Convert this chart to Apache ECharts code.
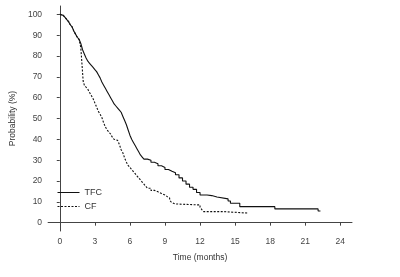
<!DOCTYPE html>
<html>
<head>
<meta charset="utf-8">
<script src="https://cdn.jsdelivr.net/npm/echarts@6/dist/echarts.min.js"></script>
<style>
  html, body { margin: 0; padding: 0; background: #fff; }
  #chart { width: 400px; height: 277px; }
</style>
</head>
<body>
<div id="chart"></div>
<script>
// Kaplan-Meier step data (time in months, probability %)
var tfcTime = [0, 0.15, 0.3, 0.45, 0.6, 0.75, 0.9, 1.05, 1.2, 1.35, 1.5, 1.65, 1.8, 1.95, 2.1, 2.25, 2.4, 2.55, 2.7, 2.85, 3.0, 3.15, 3.3, 3.45, 3.6, 3.75, 3.9, 4.05, 4.2, 4.35, 4.5, 4.65, 4.8, 4.95, 5.1, 5.25, 5.4, 5.55, 5.7, 5.85, 6.0, 6.15, 6.3, 6.45, 6.6, 6.75, 6.9, 7.05, 7.2, 7.5, 7.8, 8.1, 8.4, 8.7, 9.0, 9.3, 9.6, 9.9, 10.2, 10.5, 10.8, 11.1, 11.4, 11.7, 12.0, 12.6, 13.0, 13.45, 14.4, 14.6, 15.4, 18.4, 22.1, 22.3];
var tfcProb = [100, 99.5, 99, 98.5, 97.5, 96.5, 95, 94, 92, 90.5, 89, 88, 86, 83, 81, 79, 77.5, 76.5, 75.5, 74.5, 73.5, 72.5, 71, 69.5, 67.5, 66, 64.5, 63, 61.5, 60, 58.5, 57, 56, 55, 54, 53, 51, 49, 47, 44.5, 42, 40, 38.5, 37, 35.5, 34, 32.5, 31.5, 30.5, 30, 29, 28.3, 27.3, 26.5, 25.5, 24.7, 24, 23, 21.5, 20, 18.5, 17, 16, 14.5, 13.3, 13, 12.3, 11.4, 10.4, 9.3, 7.7, 6.6, 5.6, 5.6];

var cfTime = [0, 0.15, 0.3, 0.45, 0.6, 0.75, 0.9, 1.05, 1.2, 1.35, 1.5, 1.65, 1.8, 1.85, 1.9, 1.95, 2.0, 2.1, 2.25, 2.4, 2.55, 2.7, 2.85, 3.0, 3.15, 3.3, 3.45, 3.6, 3.75, 3.9, 4.05, 4.2, 4.35, 4.5, 4.65, 4.8, 4.95, 5.1, 5.25, 5.4, 5.55, 5.7, 5.85, 6.0, 6.15, 6.3, 6.45, 6.6, 6.75, 6.9, 7.05, 7.2, 7.35, 7.5, 7.8, 8.1, 8.4, 8.7, 9.0, 9.2, 9.4, 9.55, 9.7, 9.85, 12.0, 12.15, 12.3, 14.0, 16.1];
var cfProb = [100, 99.5, 99, 98.5, 97.5, 96.5, 95, 94, 92, 90.5, 89, 88, 84, 80, 76, 72, 68, 66, 65, 64, 62.5, 61, 59.5, 57.5, 55.5, 53.5, 52, 50.5, 48, 46, 44.5, 43.5, 42.5, 41, 40, 39.5, 39, 37.5, 35, 33.5, 31, 29, 27.5, 26.5, 25.5, 24.5, 23.5, 22.5, 21.5, 20.5, 19.5, 18.5, 17.5, 16.5, 15.5, 14.8, 14, 13.3, 12.5, 11.8, 10.8, 9.8, 9, 8.5, 7.4, 6.3, 5.3, 4.6, 4.6];

var xTicks = [0, 3, 6, 9, 12, 15, 18, 21, 24];
var yTicks = [0, 10, 20, 30, 40, 50, 60, 70, 80, 90, 100];

function pairs(t, p) {
  return t.map(function (v, i) { return [v, p[i]]; });
}

var chart = echarts.init(document.getElementById('chart'));
var axisColor = '#444';
var font = 'Liberation Sans';

chart.setOption({
  animation: false,
  backgroundColor: '#fff',
  grid: { left: 46, right: 48, top: 6, bottom: 46 },
  legend: {
    orient: 'vertical',
    left: 52,
    top: 183,
    itemWidth: 22,
    itemHeight: 8,
    itemGap: 5,
    itemStyle: { opacity: 0 },
    lineStyle: { width: 1 },
    textStyle: { fontFamily: font, fontSize: 9, color: '#333' },
    data: ['TFC', 'CF']
  },
  xAxis: {
    type: 'value',
    min: -1,
    max: 25,
    name: 'Time (months)',
    nameLocation: 'middle',
    nameGap: 22,
    nameTextStyle: { fontFamily: font, fontSize: 8.5, color: '#333' },
    axisLine: { lineStyle: { color: axisColor, width: 1 } },
    axisTick: { show: true, length: 3, customValues: xTicks, lineStyle: { color: axisColor } },
    axisLabel: { customValues: xTicks, fontFamily: font, fontSize: 8.5, color: '#444', margin: 6 },
    splitLine: { show: false }
  },
  yAxis: {
    type: 'value',
    min: -4,
    max: 104,
    name: 'Probability (%)',
    nameLocation: 'middle',
    nameGap: 23,
    nameTextStyle: { fontFamily: font, fontSize: 8.5, color: '#333' },
    axisLine: { show: true, lineStyle: { color: axisColor, width: 1 } },
    axisTick: { show: true, length: 3, customValues: yTicks, lineStyle: { color: axisColor } },
    axisLabel: { customValues: yTicks, fontFamily: font, fontSize: 8.5, color: '#444', margin: 6 },
    splitLine: { show: false }
  },
  series: [
    {
      name: 'TFC',
      type: 'line',
      step: 'end',
      symbol: 'none',
      data: pairs(tfcTime, tfcProb),
      lineStyle: { color: '#111', width: 1.1, type: 'solid' },
      itemStyle: { color: '#111' }
    },
    {
      name: 'CF',
      type: 'line',
      step: 'end',
      symbol: 'none',
      data: pairs(cfTime, cfProb),
      lineStyle: { color: '#111', width: 1.1, type: [2, 1.5] },
      itemStyle: { color: '#111' }
    }
  ]
});
</script>
</body>
</html>
